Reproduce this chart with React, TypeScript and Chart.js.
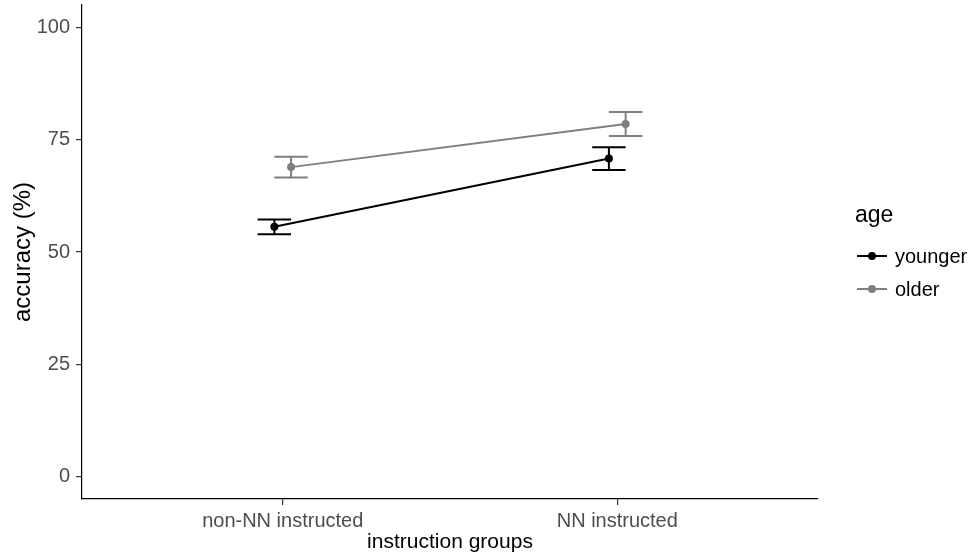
import React, { useEffect, useRef } from 'react';
import { Chart, registerables } from 'chart.js';
Chart.register(...registerables);

const categories = ['non-NN instructed', 'NN instructed'];
const seriesNames = ['younger', 'older'];
const youngerMean = [55.6, 70.8];
const youngerSE = [1.65, 2.55];
const olderMean = [68.9, 78.5];
const olderSE = [2.3, 2.65];
const yTicks = [0, 25, 50, 75, 100];

const FONT = "'Liberation Sans', Arial, sans-serif";
const colors = ['#000000', '#7f7f7f'];
const dodge = 0.025;
const capHalf = 0.05;

const means = [youngerMean, olderMean];
const ses = [youngerSE, olderSE];

const errorBarPlugin = {
  id: 'errorBars',
  beforeDatasetsDraw(chart: any) {
    const { ctx } = chart;
    const xs = chart.scales.x;
    const ys = chart.scales.y;
    ctx.save();
    chart.data.datasets.forEach((ds: any, di: number) => {
      ctx.strokeStyle = colors[di];
      ctx.lineWidth = 2;
      ds.data.forEach((pt: any, i: number) => {
        const lo = means[di][i] - ses[di][i];
        const hi = means[di][i] + ses[di][i];
        const xc = xs.getPixelForValue(pt.x);
        const xl = xs.getPixelForValue(pt.x - capHalf);
        const xr = xs.getPixelForValue(pt.x + capHalf);
        const yl = ys.getPixelForValue(lo);
        const yh = ys.getPixelForValue(hi);
        ctx.beginPath();
        ctx.moveTo(xc, yl);
        ctx.lineTo(xc, yh);
        ctx.moveTo(xl, yl);
        ctx.lineTo(xr, yl);
        ctx.moveTo(xl, yh);
        ctx.lineTo(xr, yh);
        ctx.stroke();
      });
    });
    ctx.restore();
  },
};

const legendPlugin = {
  id: 'customLegend',
  afterDraw(chart: any) {
    const { ctx } = chart;
    ctx.save();
    ctx.fillStyle = '#000';
    ctx.font = `23px ${FONT}`;
    ctx.textBaseline = 'alphabetic';
    ctx.textAlign = 'left';
    ctx.fillText('age', 855, 222);
    const rows = [256, 289];
    seriesNames.forEach((name, i) => {
      const yy = rows[i];
      ctx.strokeStyle = colors[i];
      ctx.lineWidth = 2;
      ctx.beginPath();
      ctx.moveTo(857, yy);
      ctx.lineTo(887, yy);
      ctx.stroke();
      ctx.fillStyle = colors[i];
      ctx.beginPath();
      ctx.arc(872, yy, 4, 0, Math.PI * 2);
      ctx.fill();
      ctx.fillStyle = '#000';
      ctx.font = `20px ${FONT}`;
      ctx.textBaseline = 'middle';
      ctx.fillText(name, 895, yy + 1);
    });
    ctx.restore();
  },
};

export default function App() {
  const ref = useRef<HTMLCanvasElement>(null);
  useEffect(() => {
    document.body.style.margin = '0';
    if (!ref.current) return;
    const datasets = seriesNames.map((name, di) => ({
      label: name,
      data: categories.map((_, i) => ({ x: i + 1 + (di === 0 ? -dodge : dodge), y: means[di][i] })),
      borderColor: colors[di],
      backgroundColor: colors[di],
      pointBackgroundColor: colors[di],
      pointBorderColor: colors[di],
      pointRadius: 4,
      pointBorderWidth: 0,
      borderWidth: 2,
      showLine: true,
      fill: false,
      tension: 0,
    }));
    const chart = new Chart(ref.current, {
      type: 'line',
      data: { datasets },
      options: {
        animation: false,
        responsive: false,
        events: [],
        layout: { padding: { left: 0, top: 5, right: 153, bottom: 0 } },
        plugins: { legend: { display: false }, tooltip: { enabled: false } },
        scales: {
          x: {
            type: 'linear',
            min: 0.4,
            max: 2.6,
            afterBuildTicks: (s: any) => {
              s.ticks = categories.map((_, i) => ({ value: i + 1 }));
            },
            afterFit: (s: any) => {
              s.height = 60;
              s.paddingLeft = 0;
              s.paddingRight = 0;
            },
            ticks: {
              autoSkip: false,
              maxRotation: 0,
              padding: 4,
              color: '#4d4d4d',
              font: { family: FONT, size: 20 },
              callback: (v: any) => categories[Math.round(v) - 1] ?? '',
            },
            grid: { display: true, drawOnChartArea: false, drawTicks: true, tickLength: 6, color: '#333', lineWidth: 1.2 },
            border: { display: true, color: '#000', width: 1.2 },
            title: {
              display: true,
              text: 'instruction groups',
              color: '#000',
              font: { family: FONT, size: 21 },
              padding: { top: 4, bottom: 4 },
            },
          },
          y: {
            type: 'linear',
            min: -5,
            max: 105,
            afterBuildTicks: (s: any) => {
              s.ticks = yTicks.map((v) => ({ value: v }));
            },
            afterFit: (s: any) => {
              s.width = 82;
              s.paddingTop = 0;
              s.paddingBottom = 0;
            },
            ticks: {
              padding: 6,
              color: '#4d4d4d',
              font: { family: FONT, size: 20 },
              callback: (v: any) => String(v),
            },
            grid: { display: true, drawOnChartArea: false, drawTicks: true, tickLength: 6, color: '#333', lineWidth: 1.2 },
            border: { display: true, color: '#000', width: 1.2 },
            title: {
              display: true,
              text: 'accuracy (%)',
              color: '#000',
              font: { family: FONT, size: 24 },
              padding: { top: 9, bottom: 9 },
            },
          },
        },
      },
      plugins: [errorBarPlugin, legendPlugin],
    });
    return () => chart.destroy();
  }, []);
  return (
    <div style={{ position: 'fixed', left: 0, top: 0, width: 971, height: 559, background: '#fff' }}>
      <canvas ref={ref} width={971} height={559} />
    </div>
  );
}
